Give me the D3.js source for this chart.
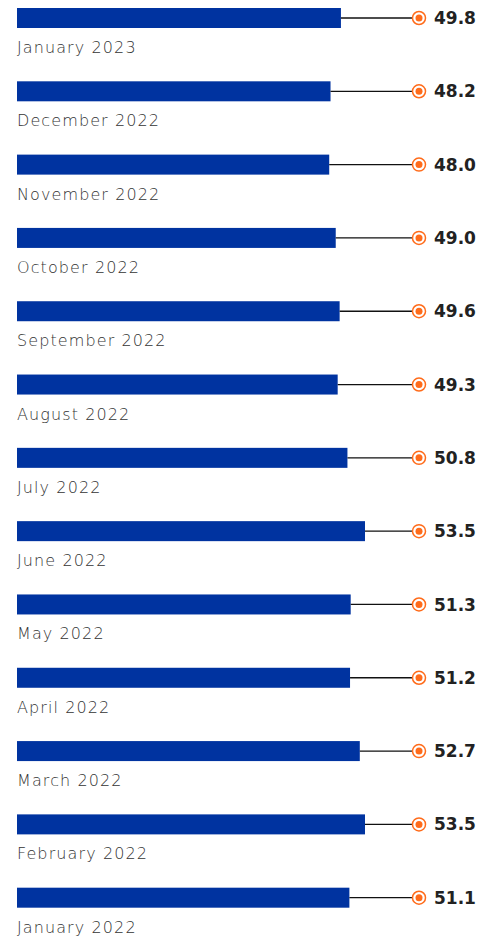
<!DOCTYPE html>
<html>
<head>
<meta charset="utf-8">
<script src="https://cdn.jsdelivr.net/npm/d3@7"></script>
<style>
  body { margin: 0; background: #fff; }
  svg { display: block; }
</style>
</head>
<body>
<svg width="480" height="940"></svg>
<script>
'use strict';

// months, newest first
var months = ['January 2023', 'December 2022', 'November 2022', 'October 2022',
  'September 2022', 'August 2022', 'July 2022', 'June 2022', 'May 2022',
  'April 2022', 'March 2022', 'February 2022', 'January 2022'];
var values = [49.8, 48.2, 48.0, 49.0, 49.6, 49.3, 50.8, 53.5, 51.3, 51.2, 52.7, 53.5, 51.1];

var rows = months.map(function (m, i) { return { month: m, value: values[i] }; });

var svg = d3.select('svg');

var x = d3.scaleLinear()
  .domain([0, 53.5])
  .range([17, 365]);

var y = d3.scaleBand()
  .domain(months)
  .range([8, 961])
  .paddingInner(0)
  .paddingOuter(0);

var barH = 20;
var dotX = 419;

var row = svg.append('g')
  .selectAll('g')
  .data(rows)
  .enter()
  .append('g')
  .attr('transform', function (d) { return 'translate(0,' + y(d.month) + ')'; });

row.append('rect')
  .attr('x', x(0))
  .attr('y', 0)
  .attr('width', function (d) { return x(d.value) - x(0); })
  .attr('height', barH)
  .attr('fill', '#0033a0');

row.append('line')
  .attr('x1', function (d) { return x(d.value); })
  .attr('x2', dotX)
  .attr('y1', barH / 2)
  .attr('y2', barH / 2)
  .attr('stroke', '#111')
  .attr('stroke-width', 1.3);

row.append('circle')
  .attr('cx', dotX)
  .attr('cy', barH / 2)
  .attr('r', 6.5)
  .attr('fill', '#fff')
  .attr('stroke', '#ff6b1a')
  .attr('stroke-width', 1.5);

row.append('circle')
  .attr('cx', dotX)
  .attr('cy', barH / 2)
  .attr('r', 3.5)
  .attr('fill', '#ff6b1a');

// value at the right end
row.append('text')
  .attr('x', 434)
  .attr('y', barH / 2)
  .attr('dy', '0.36em')
  .attr('font-family', '"DejaVu Sans", sans-serif')
  .attr('font-weight', 700)
  .attr('font-size', 17)
  .attr('fill', '#222')
  .text(function (d) { return d3.format('.1f')(d.value); });

// month under the bar
row.append('text')
  .attr('x', 17)
  .attr('y', 45)
  .attr('font-family', '"DejaVu Sans", sans-serif')
  .attr('font-weight', 200)
  .attr('font-size', 16)
  .attr('letter-spacing', 1.1)
  .attr('fill', '#333')
  .text(function (d) { return d.month; });
</script>
</body>
</html>
